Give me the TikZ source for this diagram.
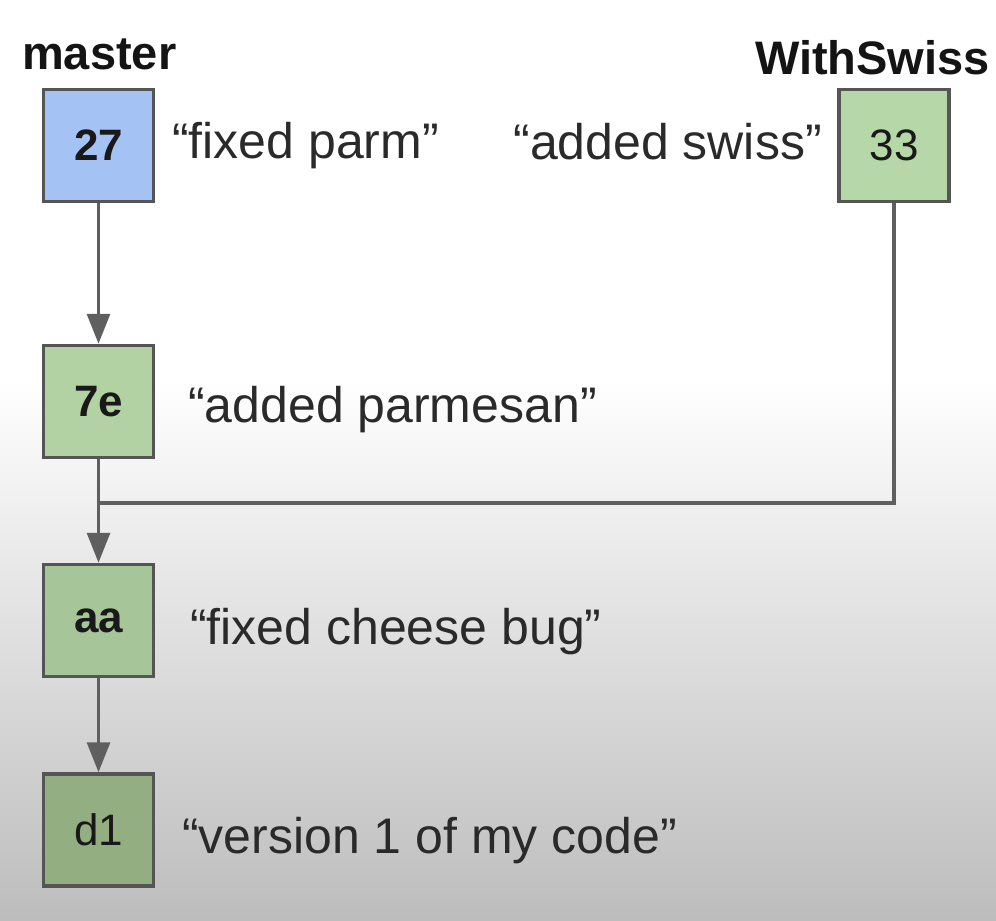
\documentclass[tikz,border=0pt]{standalone}
\usepackage{fontspec}
\setmainfont{Liberation Sans}
\usetikzlibrary{arrows.meta}
\definecolor{boxline}{HTML}{555555}
\definecolor{blueF}{HTML}{A4C2F4}
\definecolor{greenA}{HTML}{B6D7A8}
\definecolor{greenB}{HTML}{B2D2A4}
\definecolor{greenC}{HTML}{A6C598}
\definecolor{greenD}{HTML}{93AE81}
\definecolor{conncol}{HTML}{5F5F5F}
\definecolor{msgcol}{HTML}{2A2A2A}
\tikzset{
  commit/.style={draw=boxline, line width=3.5pt, minimum width=110pt, minimum height=112pt, inner sep=0pt, text=black!90, font=\fontsize{44}{44}\selectfont},
  msg/.style={anchor=base west, inner sep=0pt, text=msgcol, font=\fontsize{50}{50}\selectfont},
  branch/.style={inner sep=0pt, text=black!92, font=\fontsize{47}{47}\selectfont\bfseries},
  conn/.style={draw=conncol, line width=3.2pt},
  arr/.style={conn, -{Triangle[length=30pt,width=23pt]}}
}
\begin{document}
\begin{tikzpicture}[x=1pt,y=-1pt]
\useasboundingbox (0,0) rectangle (996,921);
\fill[white] (0,0) rectangle (996,380);
\shade[top color=white, bottom color=black!26] (0,379) rectangle (996,921);
% commits
\node[commit, fill=blueF, font=\fontsize{44}{44}\selectfont\bfseries] (c27) at (98.5,145.5) {27};
\node[commit, fill=greenA] (c33) at (894,145.5) {33};
\node[commit, fill=greenB, font=\fontsize{44}{44}\selectfont\bfseries] (c7e) at (98.5,401.5) {7e};
\node[commit, fill=greenC, font=\fontsize{44}{44}\selectfont\bfseries] (caa) at (98.5,620.5) {aa};
\node[commit, fill=greenD] (cd1) at (98.5,830) {d1};
% branch labels
\node[branch, anchor=base west] (lmaster) at (22,69) {master};
\node[branch, anchor=base east] (lswiss) at (990,74) {WithSwiss};
% messages
\node[msg] (m27) at (172,158) {“fixed parm”};
\node[msg, anchor=base east] (m33) at (822,159) {“added swiss”};
\node[msg] (m7e) at (188,422) {“added parmesan”};
\node[msg] (maa) at (190,644) {“fixed cheese bug”};
\node[msg] (md1) at (182,853) {“version 1 of my code”};
% connectors
\coordinate (j) at (98.5,503);
\draw[arr] (c27) -- (c7e);
\draw[conn] (c33.south) |- (j);
\draw[arr] (c7e) -- (caa);
\draw[arr] (caa) -- (cd1);
\end{tikzpicture}
\end{document}
